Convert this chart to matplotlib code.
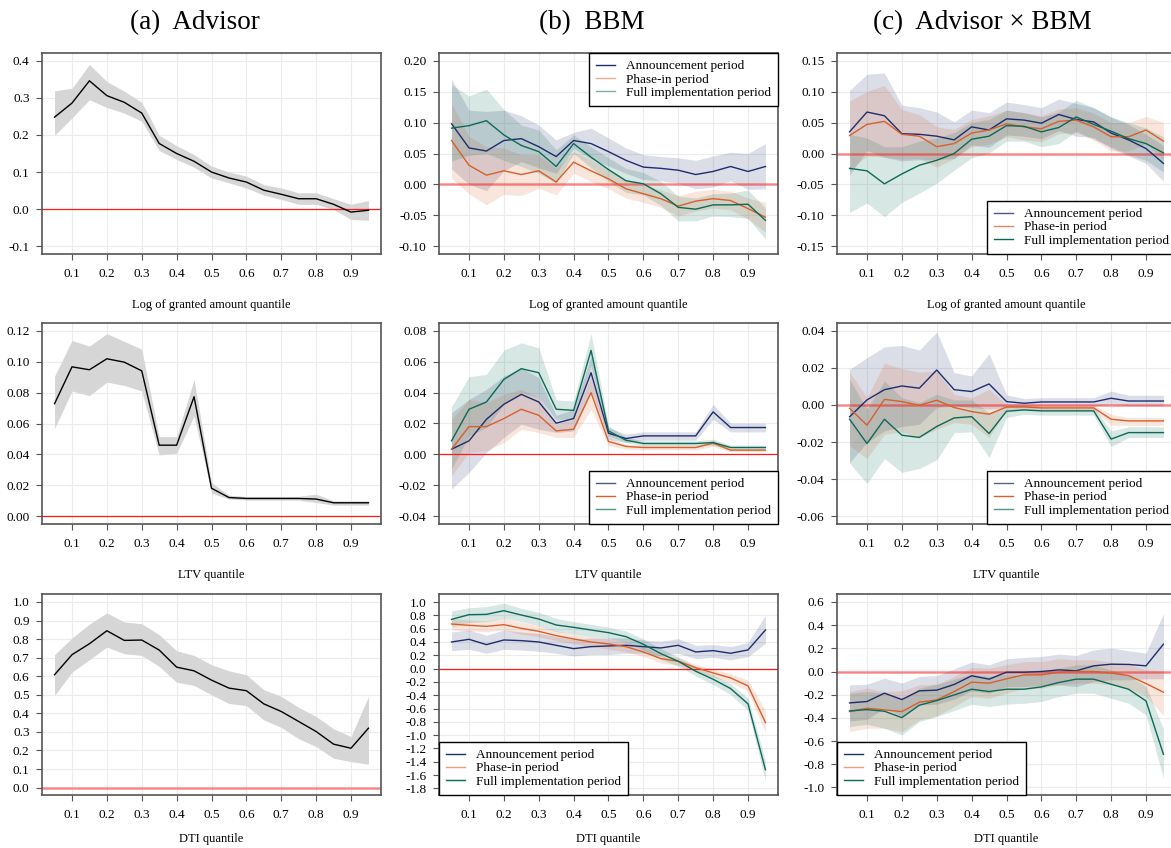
import matplotlib
matplotlib.use("Agg")
import matplotlib.pyplot as plt
from matplotlib.lines import Line2D
from matplotlib.ticker import FormatStrFormatter

plt.rcParams['font.family'] = ['Liberation Serif', 'DejaVu Serif']
plt.rcParams['axes.unicode_minus'] = False

# quantile grid
q = [0.05, 0.10, 0.15, 0.20, 0.25, 0.30, 0.35, 0.40, 0.45, 0.50,
     0.55, 0.60, 0.65, 0.70, 0.75, 0.80, 0.85, 0.90, 0.95]

series_labels = ["Announcement period", "Phase-in period", "Full implementation period"]
col_titles = ["(a)  Advisor", "(b)  BBM", "(c)  Advisor \u00d7 BBM"]
row_xlabels = ["Log of granted amount quantile", "LTV quantile", "DTI quantile"]

# ---- log of granted amount ----
amt_adv    = [0.248, 0.286, 0.346, 0.306, 0.288, 0.259, 0.177, 0.150, 0.129, 0.100, 0.084, 0.073, 0.051, 0.040, 0.028, 0.028, 0.013, -0.008, -0.003]
amt_adv_hi = [0.319, 0.326, 0.390, 0.344, 0.318, 0.288, 0.199, 0.171, 0.147, 0.116, 0.100, 0.089, 0.066, 0.057, 0.044, 0.044, 0.028, 0.013, 0.023]
amt_adv_lo = [0.199, 0.246, 0.295, 0.274, 0.259, 0.237, 0.158, 0.134, 0.113, 0.084, 0.071, 0.057, 0.038, 0.026, 0.013, 0.013, -0.001, -0.028, -0.030]

amt_bbm_ann    = [0.098, 0.059, 0.054, 0.071, 0.074, 0.061, 0.045, 0.071, 0.066, 0.053, 0.039, 0.028, 0.026, 0.023, 0.016, 0.021, 0.029, 0.021, 0.029]
amt_bbm_ann_hi = [0.170, 0.120, 0.118, 0.120, 0.111, 0.096, 0.072, 0.084, 0.091, 0.075, 0.059, 0.048, 0.045, 0.043, 0.039, 0.046, 0.052, 0.050, 0.066]
amt_bbm_ann_lo = [0.025, 0.000, -0.010, 0.022, 0.037, 0.027, 0.018, 0.058, 0.041, 0.030, 0.018, 0.008, 0.006, 0.002, -0.007, -0.004, 0.006, -0.008, -0.007]
amt_bbm_ph     = [0.071, 0.031, 0.015, 0.022, 0.016, 0.022, 0.004, 0.036, 0.022, 0.009, -0.007, -0.015, -0.023, -0.035, -0.027, -0.023, -0.026, -0.039, -0.053]
amt_bbm_ph_hi  = [0.131, 0.078, 0.061, 0.059, 0.048, 0.048, 0.026, 0.053, 0.040, 0.024, 0.008, -0.001, -0.009, -0.018, -0.011, -0.008, -0.011, -0.022, -0.029]
amt_bbm_ph_lo  = [0.010, -0.015, -0.033, -0.016, -0.018, -0.006, -0.017, 0.018, 0.005, -0.007, -0.022, -0.029, -0.037, -0.051, -0.043, -0.038, -0.041, -0.056, -0.077]
amt_bbm_full    = [0.091, 0.095, 0.103, 0.080, 0.063, 0.053, 0.029, 0.066, 0.044, 0.024, 0.006, 0.001, -0.015, -0.037, -0.040, -0.033, -0.033, -0.032, -0.058]
amt_bbm_full_hi = [0.161, 0.143, 0.154, 0.121, 0.096, 0.088, 0.056, 0.080, 0.061, 0.043, 0.026, 0.019, 0.005, -0.019, -0.022, -0.015, -0.014, -0.009, -0.038]
amt_bbm_full_lo = [0.038, 0.047, 0.050, 0.039, 0.029, 0.018, 0.002, 0.050, 0.027, 0.005, -0.013, -0.017, -0.034, -0.059, -0.059, -0.051, -0.052, -0.055, -0.088]

amt_int_ann    = [0.035, 0.067, 0.061, 0.032, 0.031, 0.028, 0.022, 0.043, 0.038, 0.056, 0.054, 0.049, 0.063, 0.055, 0.051, 0.033, 0.022, 0.008, -0.016]
amt_int_ann_hi = [0.102, 0.128, 0.130, 0.078, 0.074, 0.067, 0.051, 0.070, 0.066, 0.083, 0.079, 0.074, 0.088, 0.081, 0.074, 0.059, 0.047, 0.031, 0.013]
amt_int_ann_lo = [-0.035, 0.005, -0.006, -0.012, -0.010, -0.010, -0.008, 0.014, 0.010, 0.030, 0.028, 0.024, 0.037, 0.028, 0.026, 0.008, -0.004, -0.016, -0.045]
amt_int_ph     = [0.029, 0.047, 0.052, 0.031, 0.028, 0.011, 0.016, 0.033, 0.038, 0.048, 0.043, 0.040, 0.052, 0.054, 0.043, 0.027, 0.027, 0.038, 0.020]
amt_int_ph_hi  = [0.085, 0.100, 0.110, 0.071, 0.063, 0.043, 0.039, 0.055, 0.061, 0.070, 0.066, 0.061, 0.072, 0.074, 0.065, 0.050, 0.050, 0.060, 0.050]
amt_int_ph_lo  = [-0.027, -0.004, -0.006, -0.009, -0.008, -0.022, -0.008, 0.011, 0.015, 0.027, 0.022, 0.019, 0.032, 0.034, 0.022, 0.004, 0.004, 0.016, -0.010]
amt_int_full    = [-0.024, -0.028, -0.049, -0.033, -0.019, -0.011, 0.000, 0.023, 0.028, 0.045, 0.044, 0.035, 0.042, 0.059, 0.047, 0.036, 0.024, 0.016, 0.001]
amt_int_full_hi = [0.031, 0.025, 0.011, 0.011, 0.020, 0.025, 0.034, 0.050, 0.055, 0.070, 0.066, 0.059, 0.067, 0.086, 0.074, 0.059, 0.050, 0.041, 0.027]
amt_int_full_lo = [-0.095, -0.080, -0.102, -0.079, -0.064, -0.048, -0.027, -0.007, 0.001, 0.020, 0.020, 0.011, 0.016, 0.036, 0.023, 0.011, -0.002, -0.011, -0.030]

# ---- LTV ----
ltv_adv    = [0.0728, 0.0966, 0.0947, 0.1018, 0.0996, 0.0940, 0.0460, 0.0460, 0.0773, 0.0182, 0.0122, 0.0116, 0.0116, 0.0116, 0.0116, 0.0112, 0.0088, 0.0088, 0.0088]
ltv_adv_hi = [0.0906, 0.1136, 0.1100, 0.1180, 0.1130, 0.1080, 0.0515, 0.0515, 0.0884, 0.0219, 0.0137, 0.0129, 0.0129, 0.0129, 0.0129, 0.0144, 0.0101, 0.0101, 0.0101]
ltv_adv_lo = [0.0567, 0.0810, 0.0780, 0.0867, 0.0846, 0.0810, 0.0397, 0.0408, 0.0648, 0.0150, 0.0112, 0.0105, 0.0105, 0.0105, 0.0105, 0.0090, 0.0073, 0.0073, 0.0073]

ltv_bbm_ann    = [0.0034, 0.0088, 0.0227, 0.0324, 0.0388, 0.0339, 0.0202, 0.0232, 0.0528, 0.0137, 0.0103, 0.0120, 0.0120, 0.0120, 0.0120, 0.0275, 0.0174, 0.0174, 0.0174]
ltv_bbm_ann_hi = [0.0270, 0.0356, 0.0420, 0.0506, 0.0560, 0.0496, 0.0253, 0.0290, 0.0635, 0.0174, 0.0131, 0.0146, 0.0146, 0.0146, 0.0146, 0.0324, 0.0202, 0.0202, 0.0202]
ltv_bbm_ann_lo = [-0.0223, -0.0116, 0.0013, 0.0110, 0.0195, 0.0163, 0.0142, 0.0152, 0.0410, 0.0099, 0.0077, 0.0092, 0.0092, 0.0092, 0.0092, 0.0227, 0.0146, 0.0146, 0.0146]
ltv_bbm_ph     = [0.0034, 0.0180, 0.0180, 0.0232, 0.0292, 0.0253, 0.0152, 0.0163, 0.0399, 0.0084, 0.0052, 0.0045, 0.0045, 0.0045, 0.0045, 0.0073, 0.0028, 0.0028, 0.0028]
ltv_bbm_ph_hi  = [0.0227, 0.0356, 0.0335, 0.0388, 0.0420, 0.0367, 0.0195, 0.0227, 0.0506, 0.0110, 0.0067, 0.0060, 0.0060, 0.0060, 0.0060, 0.0092, 0.0039, 0.0039, 0.0039]
ltv_bbm_ph_lo  = [-0.0137, 0.0013, 0.0024, 0.0077, 0.0163, 0.0142, 0.0110, 0.0110, 0.0292, 0.0056, 0.0034, 0.0030, 0.0030, 0.0030, 0.0030, 0.0052, 0.0017, 0.0017, 0.0017]
ltv_bbm_full    = [0.0088, 0.0292, 0.0339, 0.0485, 0.0554, 0.0528, 0.0292, 0.0285, 0.0672, 0.0152, 0.0092, 0.0071, 0.0071, 0.0071, 0.0071, 0.0077, 0.0045, 0.0045, 0.0045]
ltv_bbm_full_hi = [0.0309, 0.0502, 0.0517, 0.0674, 0.0721, 0.0689, 0.0352, 0.0345, 0.0781, 0.0185, 0.0110, 0.0088, 0.0088, 0.0088, 0.0088, 0.0099, 0.0060, 0.0060, 0.0060]
ltv_bbm_full_lo = [-0.0094, 0.0120, 0.0174, 0.0324, 0.0399, 0.0367, 0.0227, 0.0227, 0.0571, 0.0120, 0.0077, 0.0056, 0.0056, 0.0056, 0.0056, 0.0060, 0.0030, 0.0030, 0.0030]

ltv_int_ann    = [-0.0064, 0.0027, 0.0082, 0.0102, 0.0090, 0.0188, 0.0082, 0.0072, 0.0113, 0.0018, 0.0009, 0.0016, 0.0016, 0.0016, 0.0016, 0.0036, 0.0021, 0.0021, 0.0021]
ltv_int_ann_hi = [0.0192, 0.0254, 0.0312, 0.0320, 0.0295, 0.0392, 0.0174, 0.0156, 0.0276, 0.0054, 0.0034, 0.0039, 0.0039, 0.0039, 0.0039, 0.0075, 0.0052, 0.0052, 0.0052]
ltv_int_ann_lo = [-0.0310, -0.0202, -0.0140, -0.0116, -0.0104, -0.0014, -0.0005, -0.0014, -0.0023, -0.0014, -0.0009, -0.0005, -0.0005, -0.0005, -0.0005, 0.0004, -0.0005, -0.0005, -0.0005]
ltv_int_ph     = [-0.0018, -0.0109, 0.0030, 0.0018, -0.0002, 0.0025, -0.0014, -0.0036, -0.0050, -0.0011, -0.0011, -0.0016, -0.0016, -0.0016, -0.0016, -0.0077, -0.0086, -0.0086, -0.0086]
ltv_int_ph_hi  = [0.0177, 0.0039, 0.0224, 0.0195, 0.0177, 0.0183, 0.0057, 0.0039, 0.0084, 0.0004, 0.0004, -0.0002, -0.0002, -0.0002, -0.0002, -0.0050, -0.0068, -0.0068, -0.0068]
ltv_int_ph_lo  = [-0.0220, -0.0288, -0.0158, -0.0145, -0.0175, -0.0131, -0.0095, -0.0104, -0.0175, -0.0027, -0.0023, -0.0029, -0.0029, -0.0029, -0.0029, -0.0109, -0.0109, -0.0109, -0.0109]
ltv_int_full    = [-0.0077, -0.0208, -0.0077, -0.0163, -0.0175, -0.0116, -0.0070, -0.0063, -0.0154, -0.0034, -0.0027, -0.0032, -0.0032, -0.0032, -0.0032, -0.0184, -0.0149, -0.0149, -0.0149]
ltv_int_full_hi = [0.0138, -0.0023, 0.0129, 0.0039, 0.0013, 0.0057, 0.0027, 0.0027, -0.0041, -0.0005, -0.0005, -0.0011, -0.0011, -0.0011, -0.0011, -0.0140, -0.0118, -0.0118, -0.0118]
ltv_int_full_lo = [-0.0313, -0.0423, -0.0288, -0.0363, -0.0342, -0.0295, -0.0149, -0.0145, -0.0283, -0.0068, -0.0050, -0.0055, -0.0055, -0.0055, -0.0055, -0.0224, -0.0175, -0.0175, -0.0175]

# ---- DTI ----
dti_adv    = [0.608, 0.716, 0.775, 0.845, 0.793, 0.795, 0.741, 0.649, 0.629, 0.579, 0.536, 0.522, 0.451, 0.410, 0.356, 0.302, 0.234, 0.212, 0.320]
dti_adv_hi = [0.716, 0.806, 0.881, 0.941, 0.892, 0.883, 0.824, 0.737, 0.712, 0.662, 0.629, 0.608, 0.527, 0.491, 0.432, 0.383, 0.317, 0.275, 0.491]
dti_adv_lo = [0.496, 0.622, 0.689, 0.757, 0.721, 0.712, 0.653, 0.568, 0.550, 0.500, 0.453, 0.442, 0.365, 0.324, 0.263, 0.221, 0.158, 0.140, 0.126]

dti_bbm_ann    = [0.40, 0.44, 0.36, 0.43, 0.42, 0.40, 0.35, 0.30, 0.33, 0.34, 0.35, 0.33, 0.31, 0.35, 0.25, 0.27, 0.23, 0.28, 0.58]
dti_bbm_ann_hi = [0.55, 0.58, 0.50, 0.58, 0.55, 0.53, 0.48, 0.44, 0.46, 0.46, 0.46, 0.43, 0.41, 0.45, 0.35, 0.36, 0.33, 0.39, 0.80]
dti_bbm_ann_lo = [0.27, 0.29, 0.23, 0.29, 0.28, 0.26, 0.23, 0.19, 0.21, 0.21, 0.23, 0.23, 0.20, 0.23, 0.15, 0.17, 0.13, 0.18, 0.38]
dti_bbm_ph     = [0.670, 0.650, 0.635, 0.660, 0.605, 0.560, 0.495, 0.445, 0.400, 0.370, 0.330, 0.250, 0.150, 0.110, 0.015, -0.065, -0.140, -0.260, -0.810]
dti_bbm_ph_hi  = [0.755, 0.730, 0.715, 0.755, 0.695, 0.645, 0.570, 0.515, 0.480, 0.445, 0.405, 0.320, 0.210, 0.165, 0.065, -0.010, -0.075, -0.175, -0.630]
dti_bbm_ph_lo  = [0.580, 0.565, 0.555, 0.580, 0.515, 0.480, 0.420, 0.370, 0.330, 0.290, 0.250, 0.185, 0.085, 0.050, -0.035, -0.125, -0.210, -0.340, -0.960]
dti_bbm_full    = [0.740, 0.810, 0.815, 0.870, 0.805, 0.745, 0.655, 0.620, 0.580, 0.540, 0.480, 0.365, 0.225, 0.110, -0.040, -0.160, -0.300, -0.530, -1.520]
dti_bbm_full_hi = [0.865, 0.915, 0.930, 0.985, 0.905, 0.845, 0.755, 0.705, 0.665, 0.620, 0.565, 0.445, 0.300, 0.175, 0.025, -0.090, -0.225, -0.445, -1.380]
dti_bbm_full_lo = [0.630, 0.695, 0.705, 0.755, 0.705, 0.645, 0.555, 0.520, 0.480, 0.455, 0.395, 0.280, 0.140, 0.035, -0.110, -0.240, -0.390, -0.630, -1.690]

dti_int_ann    = [-0.271, -0.259, -0.187, -0.242, -0.167, -0.161, -0.112, -0.037, -0.066, -0.006, -0.006, 0.000, 0.014, 0.006, 0.049, 0.063, 0.061, 0.049, 0.236]
dti_int_ann_hi = [-0.115, -0.110, -0.058, -0.100, -0.043, -0.035, 0.023, 0.081, 0.058, 0.110, 0.121, 0.130, 0.150, 0.138, 0.187, 0.202, 0.179, 0.158, 0.500]
dti_int_ann_lo = [-0.427, -0.412, -0.317, -0.383, -0.288, -0.282, -0.239, -0.167, -0.187, -0.130, -0.130, -0.121, -0.115, -0.130, -0.086, -0.072, -0.072, -0.063, -0.063]
dti_int_ph     = [-0.346, -0.317, -0.331, -0.346, -0.265, -0.245, -0.173, -0.092, -0.101, -0.063, -0.029, -0.029, -0.006, 0.000, 0.000, -0.014, -0.035, -0.104, -0.179]
dti_int_ph_hi  = [-0.173, -0.144, -0.173, -0.167, -0.115, -0.110, -0.043, 0.035, 0.029, 0.058, 0.086, 0.086, 0.110, 0.101, 0.101, 0.081, 0.063, 0.014, 0.006]
dti_int_ph_lo  = [-0.519, -0.490, -0.490, -0.519, -0.418, -0.383, -0.303, -0.216, -0.231, -0.187, -0.144, -0.144, -0.115, -0.101, -0.101, -0.115, -0.144, -0.216, -0.380]
dti_int_full    = [-0.340, -0.329, -0.343, -0.398, -0.291, -0.251, -0.202, -0.153, -0.173, -0.153, -0.153, -0.133, -0.095, -0.066, -0.066, -0.110, -0.153, -0.254, -0.715]
dti_int_full_hi = [-0.187, -0.173, -0.187, -0.245, -0.144, -0.110, -0.066, -0.023, -0.043, -0.023, -0.023, -0.006, 0.029, 0.058, 0.058, 0.014, -0.029, -0.130, -0.496]
dti_int_full_lo = [-0.476, -0.455, -0.490, -0.548, -0.432, -0.389, -0.337, -0.282, -0.303, -0.282, -0.274, -0.259, -0.216, -0.187, -0.187, -0.231, -0.274, -0.375, -0.922]

# colours
c_ann = "#1f2d6e"
c_ph = "#d95f2b"
c_full = "#0b6a55"
period_cols = [c_ann, c_ph, c_full]

fig = plt.figure(figsize=(11.71, 8.48), dpi=100)

lefts = [42, 439, 837]
tops = [53, 323, 594]
W, H = 339, 201
FW, FH = 1171.0, 848.0


def style_axes(ax, yticks, fmt, ylim, xlabel, labelpad):
    ax.set_xlim(0.014, 0.986)
    ax.set_ylim(*ylim)
    ax.set_xticks([0.1, 0.2, 0.3, 0.4, 0.5, 0.6, 0.7, 0.8, 0.9])
    ax.set_yticks(yticks)
    ax.xaxis.set_major_formatter(FormatStrFormatter('%.1f'))
    ax.yaxis.set_major_formatter(FormatStrFormatter(fmt))
    ax.grid(True, color='#ececec', lw=0.8)
    ax.set_axisbelow(True)
    for s in ax.spines.values():
        s.set_color('#555555')
        s.set_linewidth(1.2)
    ax.tick_params(axis='both', length=4, width=0.8, color='#555555', labelsize=9.5)
    ax.tick_params(axis='x', pad=6)
    ax.tick_params(axis='y', pad=5)
    ax.set_xlabel(xlabel, fontsize=9, labelpad=labelpad)


def zero_line(ax, thick):
    if thick:
        ax.axhline(0, color='#ff2020', alpha=0.5, lw=1.8, zorder=2)
    else:
        ax.axhline(0, color='#ff1a1a', lw=0.9, zorder=2)


def add_legend(ax, loc, handle_alpha):
    handles = [Line2D([0], [0], color=c, lw=1.0, alpha=a) for c, a in zip(period_cols, handle_alpha)]
    leg = ax.legend(handles, series_labels, loc=loc, borderaxespad=0, fontsize=9.5,
                    frameon=True, fancybox=False, handlelength=1.4, handletextpad=0.85,
                    labelspacing=0.08, borderpad=0.55)
    leg.get_frame().set_edgecolor('black')
    leg.get_frame().set_linewidth(1.0)
    leg.get_frame().set_alpha(1)


advisor = [(amt_adv, amt_adv_lo, amt_adv_hi),
           (ltv_adv, ltv_adv_lo, ltv_adv_hi),
           (dti_adv, dti_adv_lo, dti_adv_hi)]
bbm = [[(amt_bbm_ann, amt_bbm_ann_lo, amt_bbm_ann_hi),
        (amt_bbm_ph, amt_bbm_ph_lo, amt_bbm_ph_hi),
        (amt_bbm_full, amt_bbm_full_lo, amt_bbm_full_hi)],
       [(ltv_bbm_ann, ltv_bbm_ann_lo, ltv_bbm_ann_hi),
        (ltv_bbm_ph, ltv_bbm_ph_lo, ltv_bbm_ph_hi),
        (ltv_bbm_full, ltv_bbm_full_lo, ltv_bbm_full_hi)],
       [(dti_bbm_ann, dti_bbm_ann_lo, dti_bbm_ann_hi),
        (dti_bbm_ph, dti_bbm_ph_lo, dti_bbm_ph_hi),
        (dti_bbm_full, dti_bbm_full_lo, dti_bbm_full_hi)]]
inter = [[(amt_int_ann, amt_int_ann_lo, amt_int_ann_hi),
          (amt_int_ph, amt_int_ph_lo, amt_int_ph_hi),
          (amt_int_full, amt_int_full_lo, amt_int_full_hi)],
         [(ltv_int_ann, ltv_int_ann_lo, ltv_int_ann_hi),
          (ltv_int_ph, ltv_int_ph_lo, ltv_int_ph_hi),
          (ltv_int_full, ltv_int_full_lo, ltv_int_full_hi)],
         [(dti_int_ann, dti_int_ann_lo, dti_int_ann_hi),
          (dti_int_ph, dti_int_ph_lo, dti_int_ph_hi),
          (dti_int_full, dti_int_full_lo, dti_int_full_hi)]]

# per-row axis settings: (ticks, format, limits) for columns a, b, c
axis_cfg = [
    [([-0.1, 0.0, 0.1, 0.2, 0.3, 0.4], '%.1f', (-0.121, 0.421)),
     ([-0.10, -0.05, 0.0, 0.05, 0.10, 0.15, 0.20], '%.2f', (-0.1124, 0.2124)),
     ([-0.15, -0.10, -0.05, 0.0, 0.05, 0.10, 0.15], '%.2f', (-0.1624, 0.1624))],
    [([0.0, 0.02, 0.04, 0.06, 0.08, 0.10, 0.12], '%.2f', (-0.0049, 0.1249)),
     ([-0.04, -0.02, 0.0, 0.02, 0.04, 0.06, 0.08], '%.2f', (-0.0449, 0.0849)),
     ([-0.06, -0.04, -0.02, 0.0, 0.02, 0.04], '%.2f', (-0.0641, 0.0441))],
    [([0.0, 0.1, 0.2, 0.3, 0.4, 0.5, 0.6, 0.7, 0.8, 0.9, 1.0], '%.1f', (-0.04, 1.043)),
     ([-1.8, -1.6, -1.4, -1.2, -1.0, -0.8, -0.6, -0.4, -0.2, 0.0, 0.2, 0.4, 0.6, 0.8, 1.0], '%.1f', (-1.9, 1.121)),
     ([-1.0, -0.8, -0.6, -0.4, -0.2, 0.0, 0.2, 0.4, 0.6], '%.1f', (-1.066, 0.669))],
]
thick_zero = [[False, True, True], [False, False, True], [True, False, True]]
legend_locs = [['upper right', 'lower right'], ['lower right', 'lower right'], ['lower left', 'lower left']]
legend_alpha = [[(1, 0.5, 0.55), (0.8, 0.75, 1)],
                [(0.8, 1, 0.7), (0.75, 1, 0.7)],
                [(1, 0.6, 1), (1, 0.6, 1)]]
xlabel_pads = [14, 14, 9]

for r in range(3):
    for c in range(3):
        ax = fig.add_axes([lefts[c] / FW, 1 - (tops[r] + H) / FH, W / FW, H / FH])
        ticks, fmt, ylim = axis_cfg[r][c]
        style_axes(ax, ticks, fmt, ylim, row_xlabels[r], xlabel_pads[r])
        if c == 0:
            mid, lo, hi = advisor[r]
            ax.fill_between(q, lo, hi, color='#d6d6d6', lw=0, zorder=1)
            zero_line(ax, thick_zero[r][c])
            ax.plot(q, mid, color='black', lw=1.0, zorder=3)
        else:
            groups = bbm[r] if c == 1 else inter[r]
            for (mid, lo, hi), col in zip(groups, period_cols):
                ax.fill_between(q, lo, hi, color=col, alpha=0.16, lw=0, zorder=1)
            zero_line(ax, thick_zero[r][c])
            for (mid, lo, hi), col in zip(groups, period_cols):
                ax.plot(q, mid, color=col, lw=1.0, zorder=3)
            add_legend(ax, legend_locs[r][c - 1], legend_alpha[r][c - 1])

title_x = [195, 592, 982]
for t, x in zip(col_titles, title_x):
    fig.text(x / FW, 1 - 23 / FH, t, ha='center', va='center', fontsize=19.5)

fig.savefig("out.png", dpi=100)
